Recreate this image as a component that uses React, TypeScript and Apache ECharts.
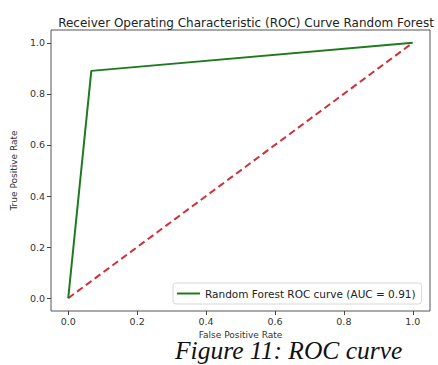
import React, { useEffect, useRef } from "react";
import * as echarts from "echarts";

const rocFpr = [0, 0.067, 1];
const rocTpr = [0, 0.89, 1];
const diagX = [0, 1];
const diagY = [0, 1];
const tickValues = [0, 0.2, 0.4, 0.6, 0.8, 1.0];
const titleText = "Receiver Operating Characteristic (ROC) Curve Random Forest";
const legendText = "Random Forest ROC curve (AUC = 0.91)";
const xName = "False Positive Rate";
const yName = "True Positive Rate";
const caption = "Figure 11: ROC curve";

export default function App() {
  const ref = useRef<HTMLDivElement>(null);
  useEffect(() => {
    if (!ref.current) return;
    const chart = echarts.init(ref.current, null, { renderer: "svg" });
    const font = "DejaVu Sans";
    const axisCommon = {
      type: "value",
      min: -0.05,
      max: 1.05,
      splitLine: { show: false },
      axisLine: { show: false, onZero: false },
      axisTick: {
        show: true,
        customValues: tickValues,
        length: 4,
        inside: false,
        lineStyle: { color: "#444", width: 1 },
      },
      axisLabel: {
        customValues: tickValues,
        formatter: (v: number) => v.toFixed(1),
        color: "#333",
        fontFamily: font,
        fontSize: 9.5,
      },
    };
    chart.setOption({
      animation: false,
      backgroundColor: "#ffffff",
      title: {
        text: titleText,
        left: 241,
        top: 12,
        textAlign: "center",
        textStyle: { fontFamily: font, fontSize: 12, fontWeight: "normal", color: "#222" },
      },
      grid: {
        left: 51,
        top: 30,
        width: 379,
        height: 281,
        show: true,
        borderColor: "#555",
        borderWidth: 1,
        backgroundColor: "transparent",
      },
      xAxis: {
        ...axisCommon,
        axisLabel: { ...axisCommon.axisLabel, margin: 5 },
        name: xName,
        nameLocation: "middle",
        nameGap: 17,
        nameTextStyle: { fontFamily: font, fontSize: 9, color: "#333", lineHeight: 9 },
      },
      yAxis: {
        ...axisCommon,
        axisLabel: { ...axisCommon.axisLabel, margin: 6 },
        name: yName,
        nameLocation: "middle",
        nameGap: 31,
        nameTextStyle: { fontFamily: font, fontSize: 9, color: "#333" },
      },
      legend: {
        show: true,
        left: 173,
        top: 283,
        data: [legendText],
        itemWidth: 23,
        itemHeight: 2,
        itemGap: 6,
        padding: [5, 6, 5, 4],
        borderColor: "#d8d8d8",
        borderWidth: 1,
        borderRadius: 3,
        backgroundColor: "#fff",
        icon: "rect",
        textStyle: { fontFamily: font, fontSize: 10.5, color: "#222" },
      },
      series: [
        {
          name: legendText,
          type: "line",
          data: rocFpr.map((x, i) => [x, rocTpr[i]]),
          symbol: "none",
          lineStyle: { color: "#1f7a1f", width: 2 },
          itemStyle: { color: "#1f7a1f" },
          z: 3,
        },
        {
          name: "diag",
          type: "line",
          data: diagX.map((x, i) => [x, diagY[i]]),
          symbol: "none",
          lineStyle: { color: "#d03038", width: 2, type: [7, 4] },
          z: 2,
        },
      ],
      graphic: [
        {
          type: "text",
          left: 175,
          top: 337,
          style: {
            text: caption,
            font: "italic 25.5px 'Liberation Serif', serif",
            lineHeight: 24,
            fill: "#111",
          },
        },
      ],
    });
    return () => chart.dispose();
  }, []);
  return (
    <div
      ref={ref}
      style={{ position: "fixed", left: 0, top: 0, width: 438, height: 365, background: "#fff" }}
    />
  );
}
